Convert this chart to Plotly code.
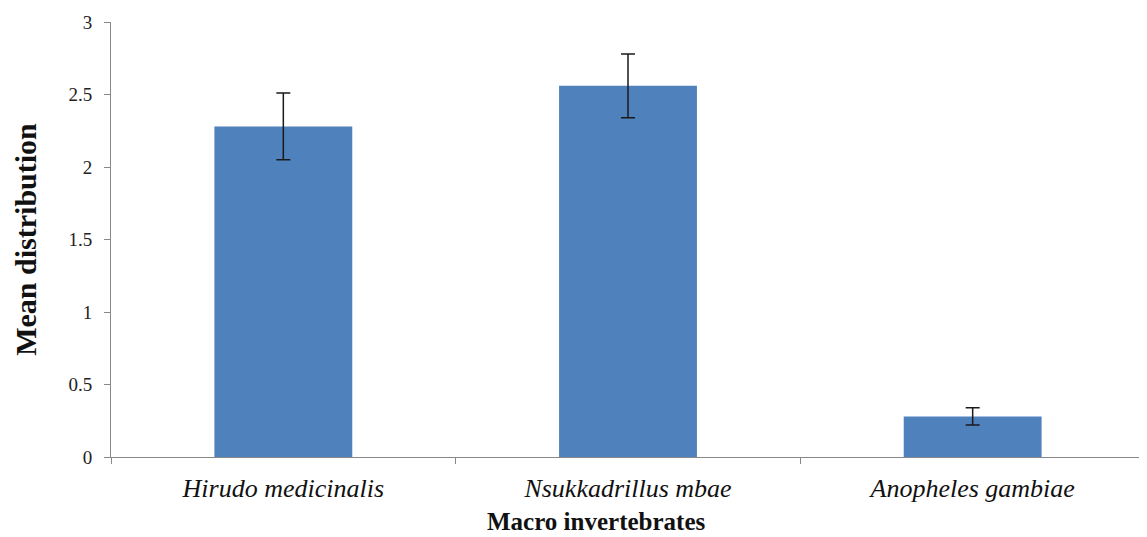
import plotly.graph_objects as go

categories = ["Hirudo medicinalis", "Nsukkadrillus mbae", "Anopheles gambiae"]
means = [2.28, 2.56, 0.28]
errors = [0.23, 0.22, 0.06]
y_ticks = [0, 0.5, 1, 1.5, 2, 2.5, 3]
y_ticklabels = ["0", "0.5", "1", "1.5", "2", "2.5", "3"]
x_title = "Macro invertebrates"
y_title = "Mean distribution"

SERIF = "Liberation Serif"

fig = go.Figure(go.Bar(
    x=categories, y=means,
    marker=dict(color="#4F81BD", line=dict(width=0)),
    error_y=dict(type="data", array=errors, visible=True, color="#1a1a1a", thickness=1.5, width=7),
))

# page body has an 8px offset, so the figure is sized to fit the window
fig.update_layout(
    width=1139, height=529,
    margin=dict(l=103, r=2, t=14, b=80),
    paper_bgcolor="white", plot_bgcolor="white",
    bargap=0.6,
    showlegend=False,
    font=dict(family=SERIF, color="#222"),
)
fig.update_xaxes(
    showline=True, linecolor="#888", linewidth=1,
    ticks="outside", tickson="boundaries", ticklen=6, tickcolor="#888", ticklabelstandoff=8,
    tickvals=categories, ticktext=["<i>" + c + "</i>" for c in categories],
    tickfont=dict(family=SERIF, size=26, color="#111"),
    showgrid=False, automargin=False,
)
fig.update_yaxes(
    range=[0, 3], tickvals=y_ticks, ticktext=y_ticklabels,
    showline=True, linecolor="#888", linewidth=1,
    ticks="outside", ticklen=6, tickcolor="#888", ticklabelstandoff=8,
    tickfont=dict(family=SERIF, size=19, color="#222"),
    title=dict(text="<b>" + y_title + "</b>", font=dict(family=SERIF, size=30, color="#111"), standoff=22),
    showgrid=False, zeroline=False, automargin=False,
)
fig.add_annotation(
    x=0.469, y=-0.149, xref="paper", yref="paper", yanchor="middle", xanchor="center",
    text="<b>" + x_title + "</b>", showarrow=False,
    font=dict(family=SERIF, size=25, color="#111"),
)

fig.write_html("out.html")
